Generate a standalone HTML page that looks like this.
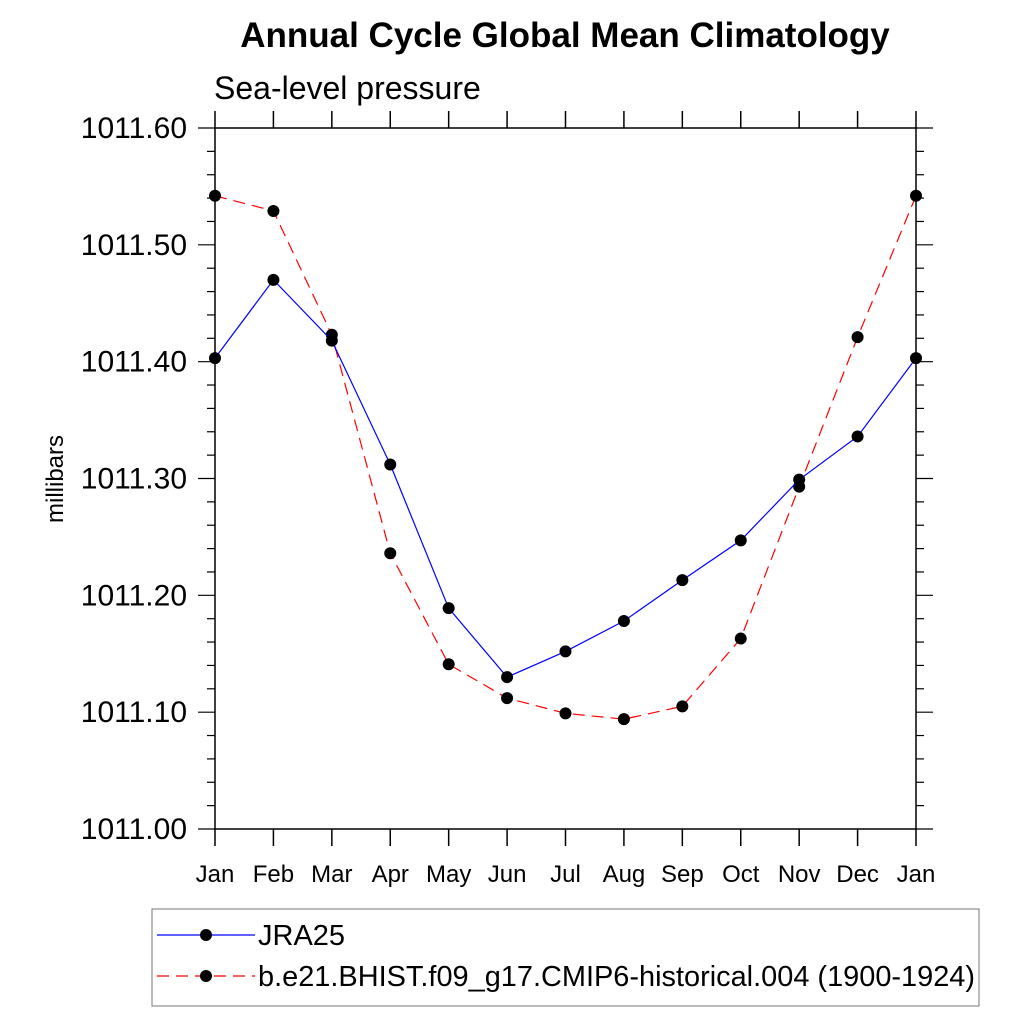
<!DOCTYPE html>
<html><head><meta charset="utf-8"><style>body{margin:0;background:#fff}svg{display:block;font-family:"Liberation Sans",sans-serif}</style></head>
<body>
<svg id="c" width="1024" height="1024">
<text x="565" y="47" text-anchor="middle" font-size="35" font-weight="bold">Annual Cycle Global Mean Climatology</text>
<text x="214" y="99" font-size="32">Sea-level pressure</text>
<text transform="translate(63,479) rotate(-90)" text-anchor="middle" font-size="24">millibars</text>
<g id="axes"></g><g id="series"></g>
<rect x="152" y="909" width="827" height="97" fill="none" stroke="#777" stroke-width="1"/>
<g><line x1="157" y1="935" x2="255" y2="935" stroke="#00f" stroke-width="1.2"/><circle cx="206" cy="935" r="6"/><text x="258" y="945" font-size="29">JRA25</text></g>
<g><line x1="157" y1="976" x2="255" y2="976" stroke="#f00" stroke-width="1.2" stroke-dasharray="12,7"/><circle cx="206" cy="976" r="6"/><text x="258" y="986" font-size="29" textLength="717" lengthAdjust="spacingAndGlyphs">b.e21.BHIST.f09_g17.CMIP6-historical.004 (1900-1924)</text></g>
</svg>
<script>
const months=["Jan","Feb","Mar","Apr","May","Jun","Jul","Aug","Sep","Oct","Nov","Dec","Jan"];
const jra=[1011.403,1011.470,1011.418,1011.312,1011.189,1011.130,1011.152,1011.178,1011.213,1011.247,1011.299,1011.336,1011.403];
const cmip=[1011.542,1011.529,1011.423,1011.236,1011.141,1011.112,1011.099,1011.094,1011.105,1011.163,1011.293,1011.421,1011.542];
const yTicks=[1011.00,1011.10,1011.20,1011.30,1011.40,1011.50,1011.60];
const L=215,R=916,T=128,B=829,ymin=1011.0,ymax=1011.6;
const xs=i=>L+(R-L)*i/12, ys=v=>B-(v-ymin)/(ymax-ymin)*(B-T);
const NS="http://www.w3.org/2000/svg";
const ax=document.getElementById('axes'),se=document.getElementById('series');
function mk(tag,at,p){const e=document.createElementNS(NS,tag);for(const k in at)e.setAttribute(k,at[k]);p.appendChild(e);return e;}
const fr=mk('rect',{x:L,y:T,width:R-L,height:B-T,fill:'none',stroke:'#000','stroke-width':1.5},ax);


months.forEach((m,i)=>{const x=xs(i);
mk('line',{x1:x,y1:B,x2:x,y2:B+17,stroke:'#000','stroke-width':1.5},ax);
mk('line',{x1:x,y1:T,x2:x,y2:T-17,stroke:'#000','stroke-width':1.5},ax);
const t=mk('text',{x:x,y:882,'text-anchor':'middle','font-size':24},ax);t.textContent=m;

});
for(let k=0;k<=30;k++){const v=ymin+k*0.02,y=ys(v),len=k%5==0?17:8;
mk('line',{x1:L,y1:y,x2:L-len,y2:y,stroke:'#000','stroke-width':1.2},ax);
mk('line',{x1:R,y1:y,x2:R+len,y2:y,stroke:'#000','stroke-width':1.2},ax);}
yTicks.forEach(v=>{const t=mk('text',{x:187,y:ys(v)+10,'text-anchor':'end','font-size':30},ax);t.textContent=v.toFixed(2);

});
function draw(d,col,dash,name){const pts=d.map((v,i)=>xs(i)+','+ys(v)).join(' ');
const p=mk('polyline',{points:pts,fill:'none',stroke:col,'stroke-width':1.2,'stroke-dasharray':dash},se);


d.forEach((v,i)=>{const c=mk('circle',{cx:xs(i),cy:ys(v),r:6,fill:'#000'},se);

});}
draw(cmip,'#f00','12,7','cmip6');
draw(jra,'#00f','none','jra25');
</script>
</body></html>
